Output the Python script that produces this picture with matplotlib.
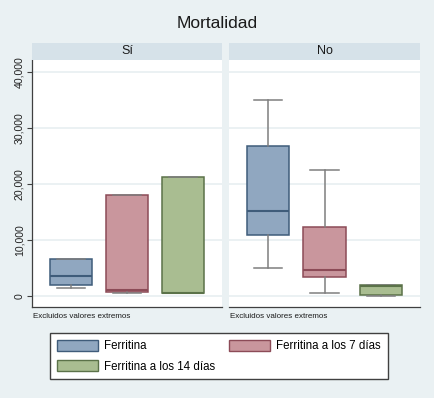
import matplotlib
matplotlib.use('Agg')
import matplotlib.pyplot as plt
from matplotlib.patches import Patch

# box summaries: whisker low, q1, median, q3, whisker high
panels = ['Sí', 'No']
series = ['Ferritina', 'Ferritina a los 7 días', 'Ferritina a los 14 días']
whislo = {'Sí': [1300, 400, 540], 'No': [5000, 550, 0]}
q1 = {'Sí': [1850, 700, 540], 'No': [10900, 3350, 200]}
med = {'Sí': [3500, 1000, 560], 'No': [15050, 4650, 1700]}
q3 = {'Sí': [6500, 17950, 21250], 'No': [26750, 12250, 1950]}
whishi = {'Sí': [6500, 17950, 21250], 'No': [35000, 22400, 1950]}
yticks = [0, 10000, 20000, 30000, 40000]

fills = ['#90a7c0', '#c9969d', '#a9bd91']
edges = ['#3f5c7a', '#8c4b57', '#5b7249']
bg = '#eaf1f3'
strip = '#d6e2e9'
plt.rcParams['font.family'] = ['Liberation Sans', 'DejaVu Sans']

W, H = 435, 398
fig = plt.figure(figsize=(W / 100, H / 100), dpi=100, facecolor=bg)

def px(x0, y0, x1, y1):
    return [x0 / W, 1 - y1 / H, (x1 - x0) / W, (y1 - y0) / H]

fig.text(0.5, 1 - 23 / H, 'Mortalidad', ha='center', va='center', fontsize=12.5, color='#1a1a1a')

boxes = [(32, 222), (229, 420)]
for k, name in enumerate(panels):
    x0, x1 = boxes[k]
    ax = fig.add_axes(px(x0, 60, x1, 307))
    ax.set_facecolor('white')
    stats = []
    for i in range(3):
        stats.append(dict(whislo=whislo[name][i], q1=q1[name][i], med=med[name][i],
                          q3=q3[name][i], whishi=whishi[name][i], fliers=[]))
    bp = ax.bxp(stats, positions=[1, 2, 3], widths=0.75, capwidths=0.5,
                patch_artist=True, showfliers=False,
                whiskerprops=dict(color='#7f7f7f', lw=1.1),
                capprops=dict(color='#7f7f7f', lw=1.1))
    for i in range(3):
        bp['boxes'][i].set_facecolor(fills[i])
        bp['boxes'][i].set_edgecolor(edges[i])
        bp['boxes'][i].set_linewidth(1.1)
        bp['medians'][i].set_color(edges[i])
        bp['medians'][i].set_linewidth(1.5)
    ax.set_xlim(0.31, 3.69)
    ax.set_ylim(-2020, 42100)
    ax.set_yticks(yticks)
    for y in yticks:
        ax.axhline(y, color='#e8eff1', lw=1.2, zorder=0)
    ax.set_xticks([])
    for s in ['top', 'right']:
        ax.spines[s].set_visible(False)
    ax.spines['bottom'].set_color('#404040')
    ax.spines['bottom'].set_linewidth(0.9)
    if k == 0:
        ax.spines['left'].set_color('#404040')
        ax.spines['left'].set_linewidth(0.9)
        ax.set_yticklabels(['{:,}'.format(v) for v in yticks], rotation=90, va='center',
                           fontsize=7.6, color='#222222')
        ax.tick_params(axis='y', length=3.5, width=0.8, color='#404040', pad=2)
    else:
        ax.spines['left'].set_visible(False)
        ax.tick_params(axis='y', left=False, labelleft=False)
    sax = fig.add_axes(px(x0, 43, x1, 60))
    sax.set_facecolor(strip)
    sax.set_xticks([])
    sax.set_yticks([])
    for s in sax.spines.values():
        s.set_visible(False)
    sax.text(0.5, 0.5, name, ha='center', va='center', fontsize=9, color='#1a1a1a',
             transform=sax.transAxes)
    fig.text((x0 + 1) / W, 1 - 317 / H, 'Excluidos valores extremos', ha='left', va='center',
             fontsize=5.8, color='#1a1a1a')

handles = [Patch(facecolor=fills[i], edgecolor=edges[i], lw=1) for i in range(3)]
order = [0, 2, 1]
leg = fig.legend([handles[i] for i in order], [series[i] for i in order],
                 loc='upper left', bbox_to_anchor=(50 / W, 1 - 333 / H), ncol=2,
                 fontsize=8.3, handlelength=3.55, handleheight=1.05, handletextpad=0.55,
                 columnspacing=1.2, labelspacing=0.7, borderpad=0.6, borderaxespad=0,
                 fancybox=False, framealpha=1, edgecolor='#404040', facecolor='white')
leg.get_frame().set_linewidth(1.0)

fig.savefig('out.png', dpi=100, facecolor=bg)
